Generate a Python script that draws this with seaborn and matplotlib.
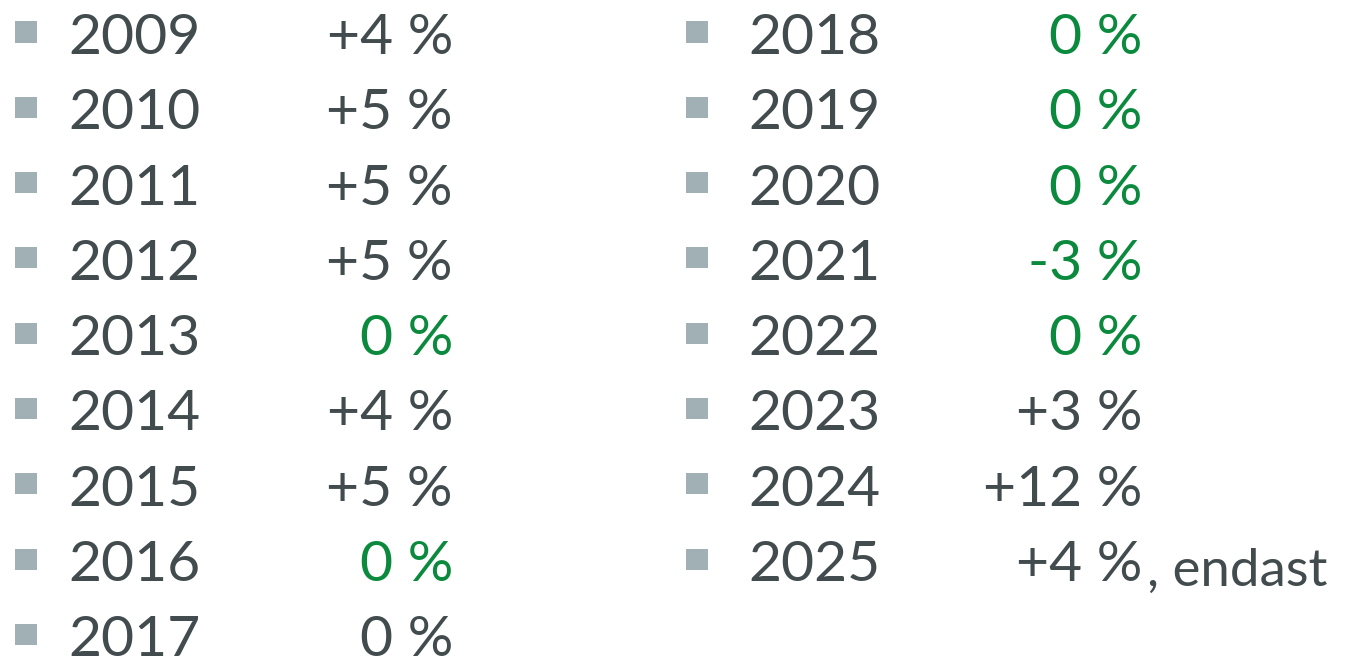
import matplotlib
matplotlib.use("Agg")
import matplotlib.pyplot as plt
import seaborn as sns
import pandas as pd

# ---- data ----
years_left = [2009, 2010, 2011, 2012, 2013, 2014, 2015, 2016, 2017]
change_left = [4, 5, 5, 5, 0, 4, 5, 0, 0]
green_left = [False, False, False, False, True, False, False, True, False]

years_right = [2018, 2019, 2020, 2021, 2022, 2023, 2024, 2025]
change_right = [0, 0, 0, -3, 0, 3, 12, 4]
green_right = [True, True, True, True, True, False, False, False]

note_text = ", endast"

# ---- style ----
sns.set_theme(style="white")
plt.rcParams['font.family'] = ['Lato', 'DejaVu Sans']

GREY = "#424b4d"
GREEN = "#0b8a3e"
BULLET = "#a0b0b5"

W, H = 1348, 663
fig = plt.figure(figsize=(W / 100, H / 100), dpi=100)
ax = fig.add_axes([0, 0, 1, 1])

ROW0 = 54
STEP = 75.3
FS = 41


def fmt(v):
    if v > 0:
        return f"+{v} %"
    return f"{v} %"


cols = [
    dict(years=years_left, vals=change_left, green=green_left, bx=26, yx=68, px=453),
    dict(years=years_right, vals=change_right, green=green_right, bx=697, yx=748, px=1142),
]

rows = []
for c in cols:
    for i, (yr, v, g) in enumerate(zip(c["years"], c["vals"], c["green"])):
        base = ROW0 + STEP * i
        rows.append(dict(x=c["bx"], y=base - 22))
        ax.text(c["yx"], base, str(yr), ha="left", va="baseline",
                fontsize=FS, color=GREY)
        ax.text(c["px"], base, fmt(v), ha="right", va="baseline",
                fontsize=FS, color=GREEN if g else GREY)

bullets = pd.DataFrame(rows)
sns.scatterplot(data=bullets, x="x", y="y", marker="s", s=230,
                color=BULLET, edgecolor="none", linewidth=0, ax=ax, legend=False)
ax.set_xlim(0, W)
ax.set_ylim(H, 0)
ax.axis("off")

last_base = ROW0 + STEP * (len(years_right) - 1)
ax.text(1147, last_base + 5, note_text, ha="left", va="baseline",
        fontsize=38, color=GREY)

fig.savefig("out.png", dpi=100)
